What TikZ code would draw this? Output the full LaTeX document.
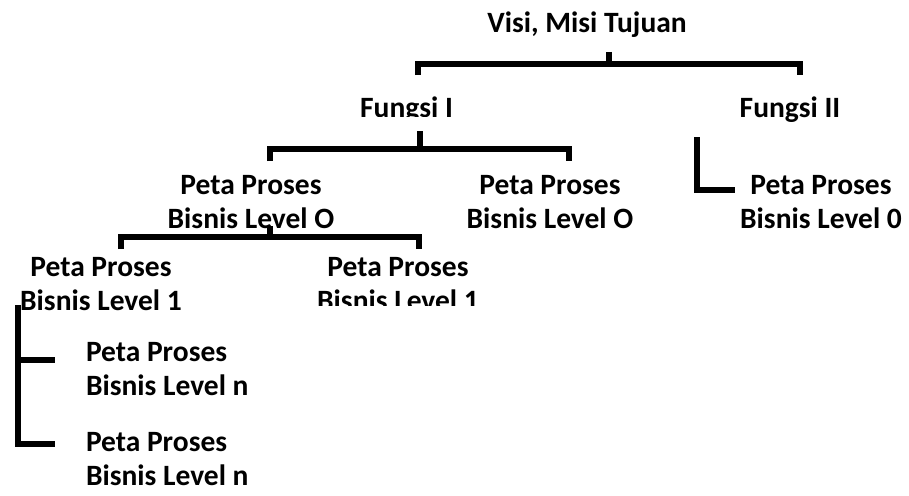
\documentclass[tikz,border=0pt]{standalone}
\usepackage{fontspec}
\setmainfont{Carlito}
\begin{document}
\begin{tikzpicture}[x=1pt,y=-1pt,
  lbl/.style={inner sep=0pt,outer sep=0pt,font=\fontsize{29.5}{34}\selectfont\bfseries,align=center},
  lbll/.style={lbl,align=left,anchor=west},
  conn/.style={line width=5.6pt,line join=miter}]
\useasboundingbox (0,0) rectangle (909,495);
% texts
\node[lbl,anchor=base] (visi) at (587,33) {Visi, Misi Tujuan};
\begin{scope}
  \clip (0,0) rectangle (909,116.5);
  \node[lbl,anchor=base] (f1) at (406.5,117) {Fungsi I};
\end{scope}
\node[lbl,anchor=base] (f2) at (790,117) {Fungsi II};
\node[lbl] (p0a) at (251,202) {Peta Proses\\Bisnis Level O};
\node[lbl] (p0b) at (550,202) {Peta Proses\\Bisnis Level O};
\node[lbl] (p0c) at (821,202) {Peta Proses\\Bisnis Level 0};
\node[lbl] (p1a) at (101,284) {Peta Proses\\Bisnis Level 1};
\begin{scope}
  \clip (0,0) rectangle (909,305);
  \node[lbl] (p1b) at (398,284) {Peta Proses\\Bisnis Level 1};
\end{scope}
\node[lbll] (pna) at (86,369) {Peta Proses\\Bisnis Level n};
\node[lbll] (pnb) at (86,459) {Peta Proses\\Bisnis Level n};
% bracket coordinates
\coordinate (t1) at (609,52);  \coordinate (h1) at (609,64);
\coordinate (l1) at (418,75);  \coordinate (r1) at (800,75);
\coordinate (t2) at (420,131); \coordinate (h2) at (420,149);
\coordinate (l2) at (270,161); \coordinate (r2) at (569,161);
\coordinate (t3) at (270,226); \coordinate (h3) at (270,237);
\coordinate (l3) at (121,249); \coordinate (r3) at (419,249);
\coordinate (t4) at (697,137); \coordinate (e4) at (735,190);
\coordinate (t5) at (18,305);  \coordinate (e5a) at (55,360); \coordinate (e5b) at (55,444);
% connectors
\draw[conn] (t1) -- (h1);
\draw[conn] (l1) |- (h1) -| (r1);
\draw[conn] (t2) -- (h2);
\draw[conn] (l2) |- (h2) -| (r2);
\draw[conn] (t3) -- (h3);
\draw[conn] (l3) |- (h3) -| (r3);
\draw[conn] (t4) |- (e4);
\draw[conn] (t5) |- (e5b);
\draw[conn] (t5 |- e5a) -- (e5a);
\end{tikzpicture}
\end{document}
